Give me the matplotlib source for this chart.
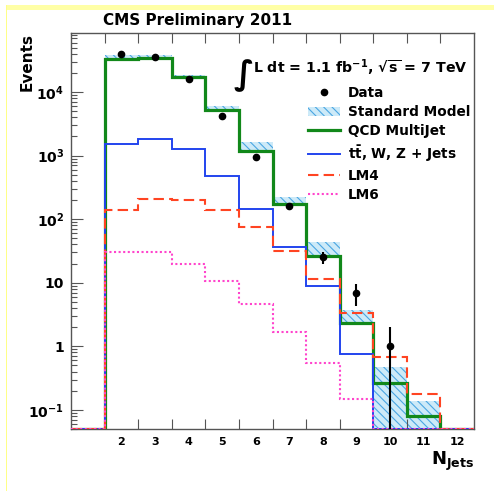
import numpy as np
import matplotlib
matplotlib.use("Agg")
import matplotlib.pyplot as plt
from matplotlib.lines import Line2D
from matplotlib.patches import Patch, Rectangle
from matplotlib.ticker import LogLocator, FuncFormatter, FixedLocator

plt.rcParams['font.family'] = 'DejaVu Sans'
plt.rcParams['font.weight'] = 'bold'
plt.rcParams['mathtext.default'] = 'bf'
plt.rcParams['hatch.linewidth'] = 0.8

# bins: N_jets = 1 .. 12
n_jets = np.arange(1, 13)
edges = np.arange(0.5, 13.0, 1.0)
tick_labels = [str(n) for n in n_jets[1:]]

data = [0, 39500, 36000, 16000, 4200, 950, 160, 25, 7, 1, 0, 0]
qcd = [0, 33000, 34500, 17000, 5200, 1180, 172, 26, 2.3, 0.26, 0.081, 0]
ewk = [0, 1520, 1820, 1260, 480, 145, 36, 8.8, 0.75, 0, 0, 0]
lm4 = [0, 138, 207, 200, 138, 75, 32, 11.4, 3.4, 0.68, 0.18, 0]
lm6 = [0, 30, 31, 20, 10.5, 4.6, 1.66, 0.54, 0.15, 0, 0, 0]
# standard model uncertainty band (low / high edge)
sm_lo = [0, 31900, 33000, 16000, 5100, 1110, 172, 27, 2.4, 0.04, 0.026, 0]
sm_hi = [0, 38300, 39000, 18600, 6020, 1650, 224, 43.5, 3.7, 0.47, 0.136, 0]

YMIN, YMAX = 0.05, 85000

W, H = 494, 491
fig = plt.figure(figsize=(W / 100, H / 100), dpi=100)
ax = fig.add_axes([71 / W, 1 - 429 / H, (474 - 71) / W, (429 - 33) / H])

ax.set_yscale('log')
ax.set_xlim(0.5, 12.5)
ax.set_ylim(YMIN, YMAX)

# SM band
lo = np.array(sm_lo)
hi = np.array(sm_hi)
m = hi > 0
ax.bar(n_jets[m], hi[m] - lo[m], bottom=lo[m], width=1.0,
       facecolor='#cdeaf8', edgecolor='#4aa6e2', hatch='\\\\\\\\',
       linewidth=0, zorder=1)


def floor0(v):
    # empty bins are drawn along the bottom of the frame, as ROOT does
    v = np.array(v, dtype=float)
    return np.where(v > 0, v, YMIN)


ax.stairs(floor0(qcd), edges, baseline=None, color='#11881a', lw=2.3, zorder=3)
ax.stairs(floor0(ewk), edges, baseline=None, color='#2244ee', lw=1.4, zorder=4)
ax.stairs(floor0(lm4), edges, baseline=None, color='#ff4422', lw=1.5,
          linestyle=(0, (5, 2.5)), zorder=5)
ax.stairs(floor0(lm6), edges, baseline=None, color='#ff44cc', lw=1.5,
          linestyle=(0, (1, 1.2)), zorder=6)

d = np.array(data, dtype=float)
dm = d > 0
err = np.sqrt(d[dm])
ax.errorbar(n_jets[dm], d[dm], yerr=[np.minimum(err, d[dm] * 0.999), err],
            fmt='o', color='black', ms=4.5, elinewidth=1.5, capsize=0, zorder=10)

# axes styling (ROOT look)
for s in ax.spines.values():
    s.set_color('#555555')
    s.set_linewidth(1.0)
    s.set_zorder(2)

ax.xaxis.set_major_locator(FixedLocator(n_jets[1:]))
ax.set_xticklabels(tick_labels)
ax.xaxis.set_minor_locator(FixedLocator(edges[1:-1]))
ax.tick_params(axis='x', which='major', length=0, labelsize=8, pad=6)
ax.tick_params(axis='x', which='minor', direction='in', length=7.5,
               width=0.8, color='#555555', top=True, bottom=True)

ax.yaxis.set_major_locator(LogLocator(base=10, numticks=20))
ax.yaxis.set_minor_locator(LogLocator(base=10, subs=np.arange(2, 10), numticks=20))


def yfmt(v, pos):
    e = int(round(np.log10(v)))
    if e == 0:
        return '1'
    if e == 1:
        return '10'
    return r'10$^{%d}$' % e


ax.yaxis.set_major_formatter(FuncFormatter(yfmt))
ax.yaxis.set_minor_formatter(FuncFormatter(lambda v, p: ''))
ax.tick_params(axis='y', which='major', direction='in', length=8.5,
               width=0.8, color='#555555', labelsize=10, pad=5)
ax.tick_params(axis='y', which='minor', direction='in', length=4.5,
               width=0.8, color='#555555')

# texts
fig.text(198 / W, 1 - 21 / H, 'CMS Preliminary 2011', ha='center', va='center',
         fontsize=11, fontweight='bold')
fig.text(27 / W, 1 - 33 / H, 'Events', rotation=90, ha='center', va='top',
         fontsize=11, fontweight='bold')
fig.text(474 / W, 1 - 465 / H, r'N$_{Jets}$', ha='right', va='baseline',
         fontsize=13, fontweight='bold')
fig.text(234 / W, 1 - 84 / H, '\u222b', ha='left', va='baseline',
         fontsize=24, fontweight='bold')
fig.text(253 / W, 1 - 73 / H, r'L dt = 1.1 fb$^{-1}$, $\sqrt{s}$ = 7 TeV',
         ha='left', va='baseline', fontsize=10.2, fontweight='bold')

handles = [
    Line2D([], [], marker='o', color='black', linestyle='none', ms=4.5),
    Patch(facecolor='#cdeaf8', edgecolor='#4aa6e2', hatch='\\\\\\\\', linewidth=0),
    Line2D([], [], color='#11881a', lw=2.3),
    Line2D([], [], color='#2244ee', lw=1.4),
    Line2D([], [], color='#ff4422', lw=1.5, linestyle=(0, (5, 2.5))),
    Line2D([], [], color='#ff44cc', lw=1.5, linestyle=(0, (1, 1.2))),
]
labels = ['Data', 'Standard Model', 'QCD MultiJet', r't$\bar{t}$, W, Z + Jets',
          'LM4', 'LM6']
fig.legend(handles, labels, loc='upper left',
           bbox_to_anchor=(308 / W, 1 - 86 / H), bbox_transform=fig.transFigure,
           frameon=False, borderpad=0, borderaxespad=0, handlelength=2.35,
           handleheight=0.7, handletextpad=0.6, labelspacing=0.37,
           prop={'size': 9.8, 'weight': 'bold'})

# light yellow page border (top and left)
fig.add_artist(Rectangle((6 / W, 1 - 10 / H), 1 - 6 / W, 5 / H,
                         transform=fig.transFigure, color='#ffffa6', lw=0))
fig.add_artist(Rectangle((5.5 / W, 0), 1.6 / W, 1 - 5 / H,
                         transform=fig.transFigure, color='#ffff88', lw=0))

fig.savefig('out.png', dpi=100)
